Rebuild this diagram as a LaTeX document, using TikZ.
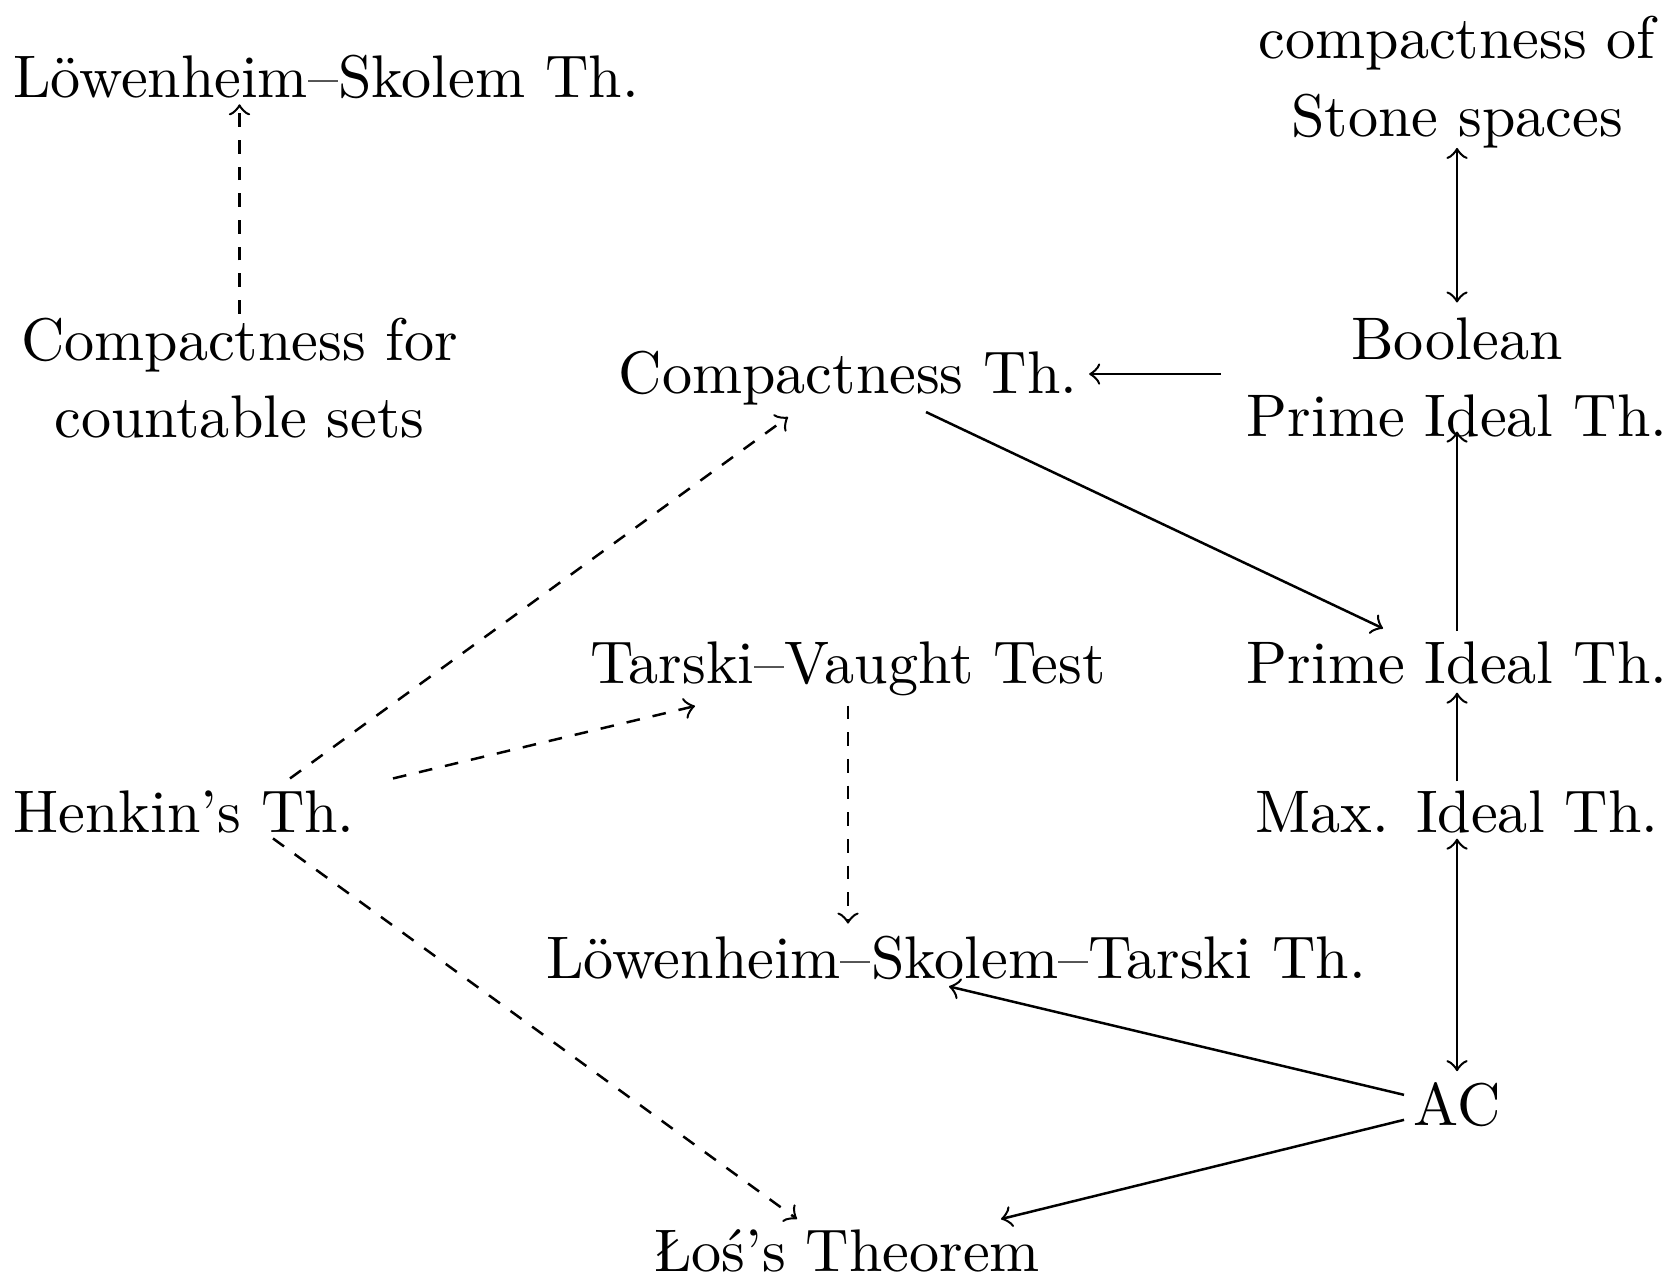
\documentclass[tikz,border=0pt]{standalone}
\usetikzlibrary{calc}
\begin{document}
\begin{tikzpicture}[x=0.16863pt,y=-0.16863pt,
  lbl/.style={inner sep=0pt,outer sep=0pt,font=\fontsize{10.14}{13.1}\selectfont},
  ml/.style={lbl,align=center},
  arr/.style={->,>=to,line width=0.42pt},
  darr/.style={arr,dash pattern=on 2.3pt off 2.2pt}]
\useasboundingbox (0,0) rectangle (1669,1279);
% nodes
\node[lbl] (ls)  at (326,77.4)   {Löwenheim--Skolem Th.};
\node[ml]  (st)  at (1457,82)    {compactness of\\Stone spaces};
\node[ml]  (cc)  at (239.5,378)  {Compactness for\\countable sets};
\node[lbl] (ct)  at (848,378)    {Compactness Th.};
\node[ml]  (bo)  at (1457,377.5) {Boolean\\Prime Ideal Th.};
\node[lbl] (tv)  at (848,669)    {Tarski--Vaught Test};
\node[lbl] (pi)  at (1457,663.4) {Prime Ideal Th.};
\node[lbl] (hk)  at (184,812.4)  {Henkin's Th.};
\node[lbl] (mi)  at (1457,812.4) {Max. Ideal Th.};
\node[lbl] (lst) at (956,958.4)  {Löwenheim--Skolem--Tarski Th.};
\node[lbl] (ac)  at (1457,1104.8){AC};
\node[lbl] (lo)  at (847,1251)   {Łoś's Theorem};
% connectors
\draw[darr] ($(cc.north)+(0,-4)$) -- ($(cc.north |- ls.south)+(0,5)$);
\draw[arr,<->] ($(st.south)+(0,0)$) -- ($(bo.north)+(0,-15)$);
\draw[arr] ($(bo.west)+(-26,-3.5)$) -- ($(ct.east)+(12,-4)$);
\draw[arr] ($(ct)+(78,34)$) -- ($(pi)+(-74,-35)$);
\draw[arr] ($(pi.north)+(0,-11)$) -- ($(bo.south)+(0,-6)$);
\draw[arr] ($(mi.north)+(0,-10)$) -- ($(pi.south)+(0,8)$);
\draw[arr,<->] ($(mi.south)+(0,5)$) -- ($(ac.north)+(0,-11.5)$);
\draw[darr] ($(hk)+(106,-34)$) -- ($(ct)+(-60,39)$);
\draw[darr] ($(hk)+(209,-34)$) -- ($(tv)+(-153,37)$);
\draw[darr] ($(tv.south)+(0,9.5)$) -- ($(tv.south |- lst.north)+(0,-13)$);
\draw[darr] ($(hk)+(89,26)$) -- ($(lo)+(-50,-32)$);
\draw[arr] ($(ac)+(-53,-10)$) -- ($(lst)+(-7,28)$);
\draw[arr] ($(ac)+(-53,15)$) -- ($(lo)+(154,-32)$);
\end{tikzpicture}
\end{document}
